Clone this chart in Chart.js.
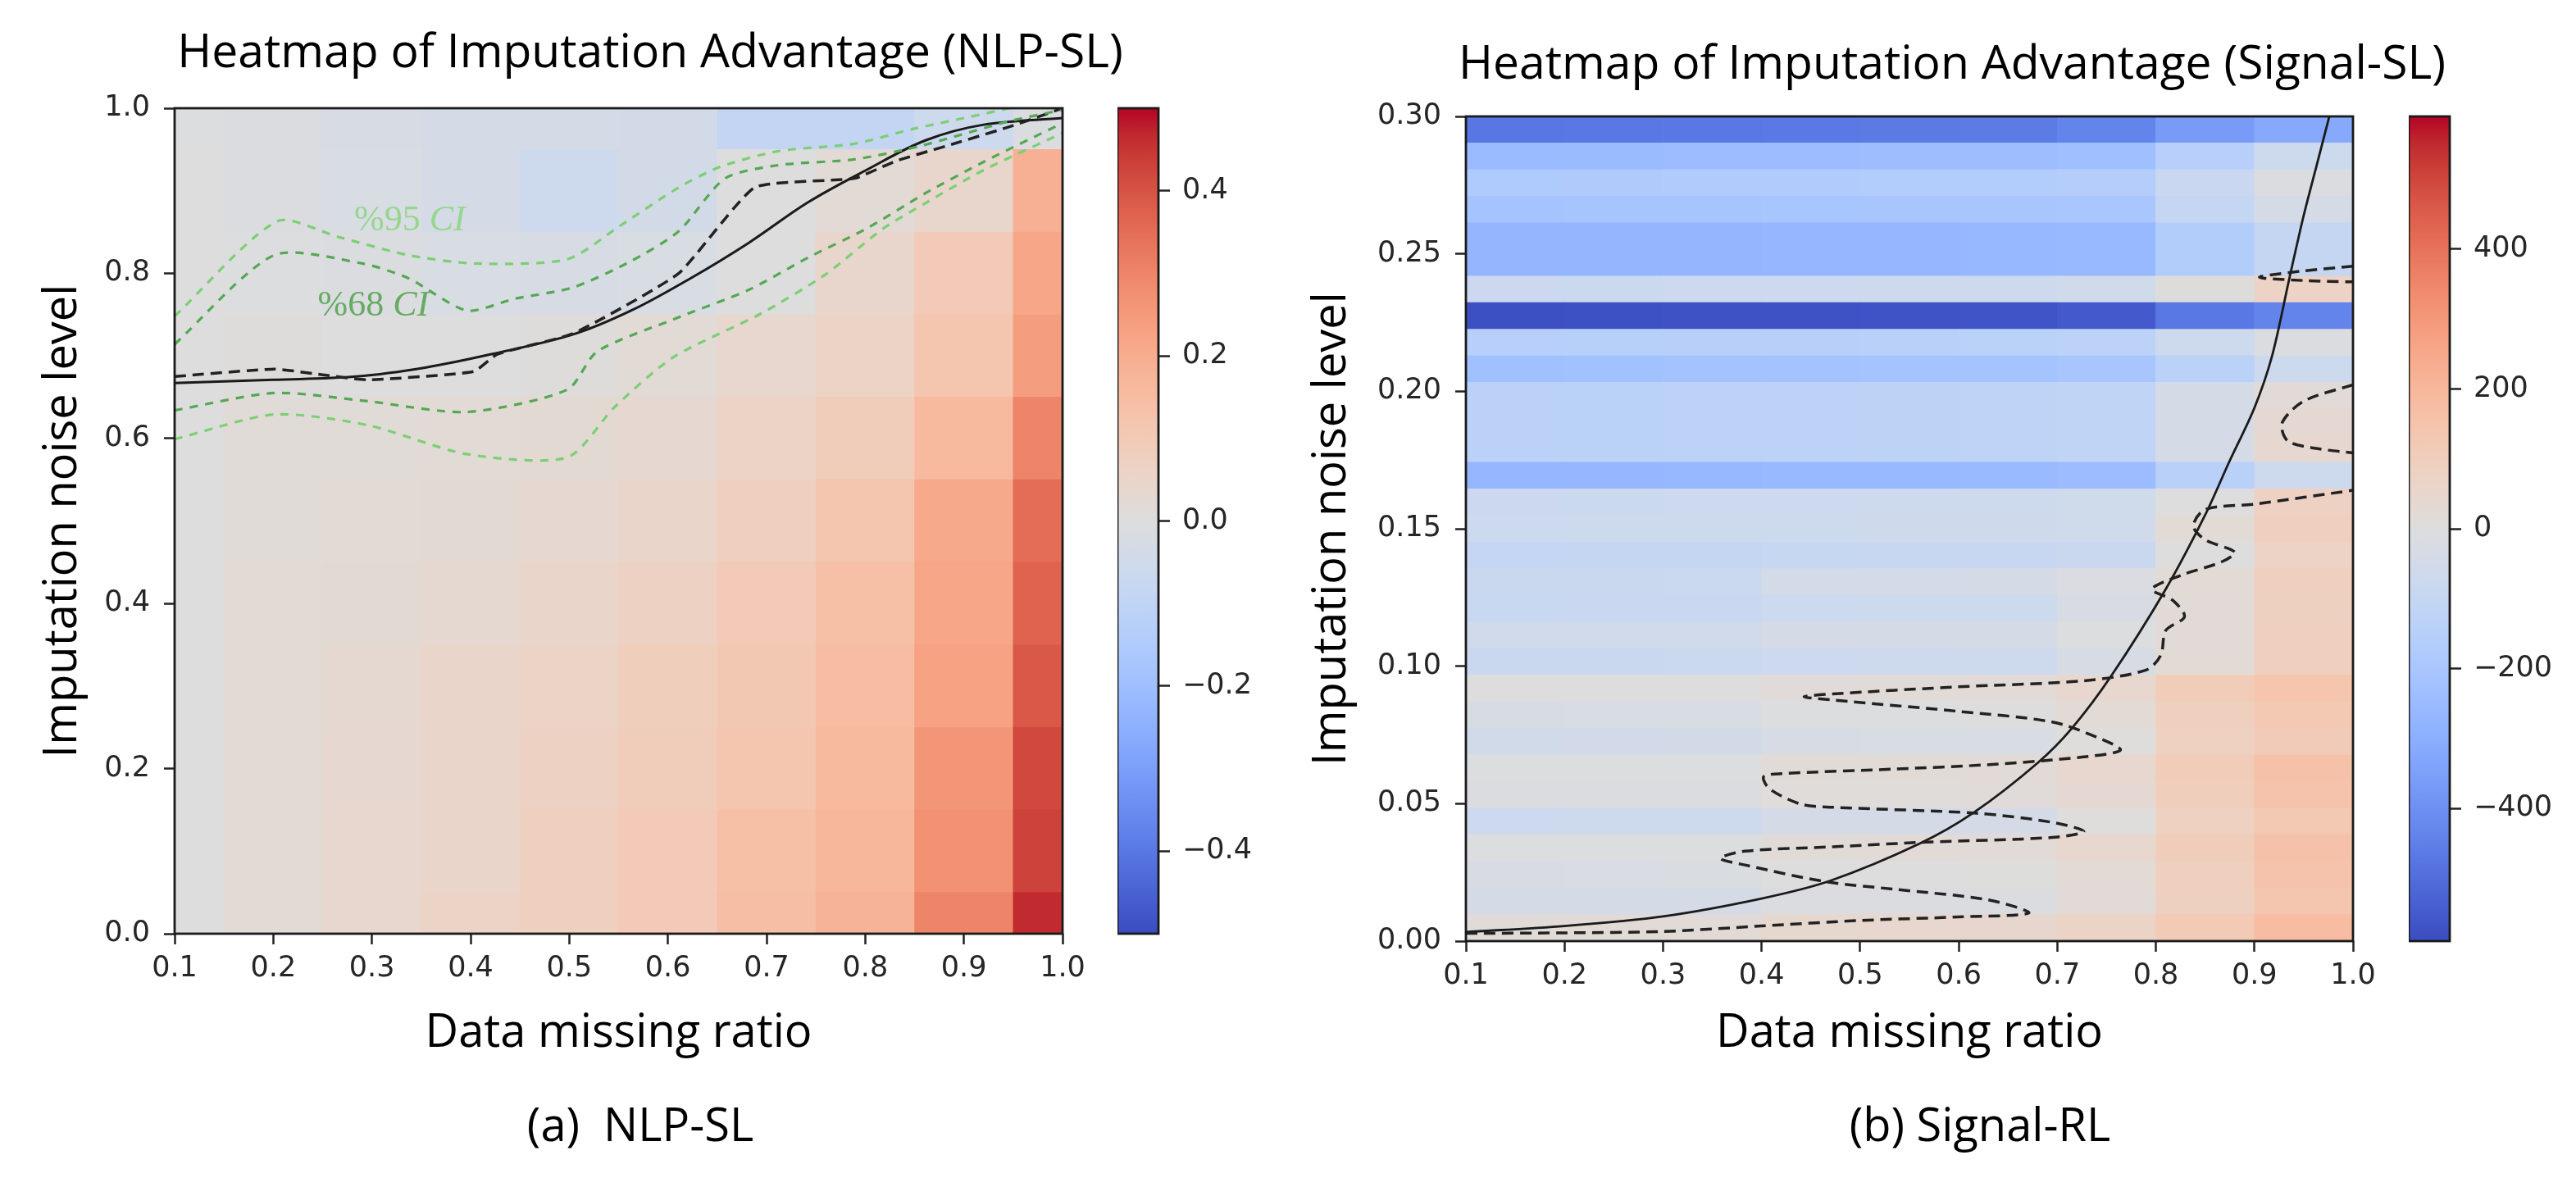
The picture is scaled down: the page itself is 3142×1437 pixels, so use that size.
<!DOCTYPE html>
<html>
<head>
<meta charset="utf-8">
<title>Heatmaps of Imputation Advantage</title>
<script src="https://cdn.jsdelivr.net/npm/chart.js@4.4.1/dist/chart.umd.min.js"></script>
<style>
  html, body { margin:0; padding:0; background:#ffffff; }
  body { width:3142px; height:1437px; overflow:hidden; position:relative; }
  canvas { position:absolute; }
  .caption { position:absolute; top:1342px; width:500px; text-align:center; font-family:'Open Sans', sans-serif; font-size:56px; line-height:1; color:#000; white-space:pre; }
</style>
</head>
<body>
<canvas id="nlpHeat"></canvas>
<canvas id="sigHeat"></canvas>
<canvas id="nlpBar"></canvas>
<canvas id="sigBar"></canvas>
<div class="caption" style="left:531px">(a)  NLP-SL</div>
<div class="caption" style="left:2165px">(b) Signal-RL</div>
<script>
// ======================= Panel (a): NLP-SL =======================
const nlpMissingRatio = [0.1, 0.2, 0.3, 0.4, 0.5, 0.6, 0.7, 0.8, 0.9, 1.0];          // column centres
const nlpNoiseLevel   = [0.0, 0.1, 0.2, 0.3, 0.4, 0.5, 0.6, 0.7, 0.8, 0.9, 1.0];     // row centres
// imputation advantage, one row per noise level (bottom -> top), one value per missing ratio
const nlpAdvantage = [
  [ 0.000,  0.020,  0.040,  0.060,  0.080,  0.100,  0.145,  0.180,  0.300,  0.465],
  [ 0.000,  0.020,  0.040,  0.050,  0.080,  0.100,  0.140,  0.170,  0.270,  0.430],
  [ 0.000,  0.020,  0.035,  0.050,  0.070,  0.090,  0.120,  0.160,  0.260,  0.420],
  [ 0.000,  0.020,  0.030,  0.050,  0.060,  0.085,  0.110,  0.150,  0.230,  0.390],
  [ 0.000,  0.020,  0.025,  0.030,  0.050,  0.070,  0.100,  0.140,  0.220,  0.370],
  [ 0.000,  0.015,  0.020,  0.025,  0.035,  0.050,  0.080,  0.120,  0.210,  0.350],
  [ 0.000,  0.015,  0.015,  0.020,  0.025,  0.035,  0.060,  0.090,  0.160,  0.300],
  [ 0.000,  0.005,  0.000,  0.000,  0.005,  0.020,  0.040,  0.060,  0.120,  0.240],
  [ 0.000, -0.005, -0.010, -0.020, -0.025, -0.020,  0.000,  0.045,  0.100,  0.220],
  [ 0.000, -0.010, -0.020, -0.030, -0.060, -0.040,  0.000,  0.020,  0.045,  0.190],
  [-0.005, -0.010, -0.025, -0.030, -0.035, -0.040, -0.090, -0.090, -0.060, -0.010]
];
const nlpXTicks = [0.1, 0.2, 0.3, 0.4, 0.5, 0.6, 0.7, 0.8, 0.9, 1.0];
const nlpYTicks = [0.0, 0.2, 0.4, 0.6, 0.8, 1.0];
const nlpColorRange = [-0.5, 0.5];
const nlpColorTicks = [-0.4, -0.2, 0.0, 0.2, 0.4];
// fitted boundary (solid)
const nlpFitX = [0.100, 0.200, 0.284, 0.355, 0.421, 0.504, 0.563, 0.623, 0.682, 0.742, 0.801, 0.861, 0.920, 1.000];
const nlpFitY = [0.667, 0.671, 0.675, 0.686, 0.702, 0.726, 0.755, 0.794, 0.837, 0.886, 0.925, 0.961, 0.980, 0.988];
// zero-advantage contour (black dashed)
const nlpZeroX = [0.100, 0.201, 0.250, 0.296, 0.403, 0.427, 0.504, 0.611, 0.688, 0.789, 0.831, 0.890, 0.950, 1.000];
const nlpZeroY = [0.675, 0.684, 0.677, 0.671, 0.681, 0.702, 0.727, 0.800, 0.904, 0.915, 0.936, 0.957, 0.979, 1.000];
// confidence bands (green dashed)
const nlpCi95UpperX = [0.100, 0.204, 0.266, 0.337, 0.403, 0.498, 0.552, 0.611, 0.653, 0.712, 0.789, 0.849, 0.945, 1.000];
const nlpCi95UpperY = [0.748, 0.863, 0.844, 0.822, 0.812, 0.817, 0.858, 0.904, 0.929, 0.948, 0.957, 0.975, 1.000, 1.020];
const nlpCi68UpperX = [0.100, 0.201, 0.290, 0.337, 0.396, 0.444, 0.504, 0.563, 0.611, 0.658, 0.712, 0.789, 0.855, 0.945, 1.000];
const nlpCi68UpperY = [0.714, 0.822, 0.812, 0.794, 0.755, 0.769, 0.783, 0.815, 0.851, 0.915, 0.931, 0.938, 0.954, 0.984, 0.998];
const nlpCi68LowerX = [0.100, 0.201, 0.296, 0.396, 0.498, 0.528, 0.605, 0.682, 0.742, 0.801, 0.861, 0.920, 1.000];
const nlpCi68LowerY = [0.634, 0.655, 0.645, 0.632, 0.659, 0.705, 0.744, 0.780, 0.819, 0.854, 0.897, 0.935, 0.982];
const nlpCi95LowerX = [0.100, 0.201, 0.296, 0.396, 0.498, 0.546, 0.605, 0.694, 0.759, 0.818, 0.861, 0.920, 1.000];
const nlpCi95LowerY = [0.599, 0.629, 0.616, 0.581, 0.577, 0.638, 0.698, 0.751, 0.798, 0.854, 0.885, 0.925, 0.970];
const nlpCiLabels = ['%95', '%68'];
const nlpCiLabelX = [0.282, 0.245];
const nlpCiLabelY = [0.852, 0.749];

// ======================= Panel (b): Signal =======================
const sigMissingRatio = [0.15, 0.25, 0.35, 0.45, 0.55, 0.65, 0.75, 0.85, 0.95];     // column centres
const sigNoiseLevel = [0.00, 0.01, 0.02, 0.03, 0.04, 0.05, 0.06, 0.07, 0.08, 0.09, 0.10,
                       0.11, 0.12, 0.13, 0.14, 0.15, 0.16, 0.17, 0.18, 0.19, 0.20,
                       0.21, 0.22, 0.23, 0.24, 0.25, 0.26, 0.27, 0.28, 0.29, 0.30];
const sigAdvantage = [
  [  18,   20,   22,   42,   45,   48,   70,  120,  180],
  [ -42,  -40,  -38,  -14,  -12,  -10,   20,   90,  140],
  [ -22,  -20,  -18,   -2,    0,    2,   25,   95,  150],
  [  -6,   -5,   -4,   18,   20,   22,   45,  105,  160],
  [ -72,  -70,  -68,  -42,  -40,  -38,    3,   85,  125],
  [ -13,  -12,  -11,    8,   10,   12,   35,  100,  150],
  [  -6,   -5,   -4,   18,   20,   22,   45,  110,  160],
  [ -52,  -50,  -48,  -27,  -25,  -23,    3,   85,  115],
  [ -26,  -25,  -24,   -5,   -3,   -1,   25,   95,  125],
  [  -1,    0,    1,   16,   18,   20,   45,  110,  145],
  [ -82,  -80,  -78,  -72,  -70,  -68,  -30,   25,   95],
  [ -56,  -55,  -54,  -42,  -40,  -38,   -5,   22,   95],
  [ -87,  -85,  -83,  -72,  -70,  -68,  -30,   20,   90],
  [ -82,  -80,  -78,  -47,  -45,  -43,  -15,   25,   95],
  [-102, -100,  -98,  -95,  -93,  -90,  -80,    0,   75],
  [ -72,  -70,  -68,  -68,  -66,  -64,  -55,   25,   95],
  [ -79,  -77,  -75,  -72,  -70,  -68,  -62,    0,   78],
  [-268, -265, -262, -260, -258, -255, -245, -145,  -70],
  [-137, -135, -133, -131, -129, -127, -118,  -35,   40],
  [-137, -135, -133, -131, -129, -127, -118,  -35,   35],
  [-137, -135, -133, -131, -129, -127, -118,  -35,   20],
  [-228, -225, -222, -220, -217, -214, -205, -140,  -70],
  [-153, -150, -148, -146, -144, -141, -132,  -70,  -12],
  [-580, -578, -576, -574, -572, -568, -555, -472, -437],
  [ -79,  -77,  -75,  -73,  -71,  -69,  -62,    5,   74],
  [-273, -271, -269, -267, -265, -263, -258, -165, -100],
  [-273, -271, -269, -267, -265, -263, -258, -165, -100],
  [-214, -212, -210, -208, -206, -204, -198, -100,  -35],
  [-179, -177, -175, -173, -171, -169, -163,  -83,  -12],
  [-250, -248, -246, -244, -242, -240, -232, -153,  -71],
  [-474, -472, -470, -468, -466, -462, -437, -366, -319]
];
const sigXTicks = [0.1, 0.2, 0.3, 0.4, 0.5, 0.6, 0.7, 0.8, 0.9, 1.0];
const sigYTicks = [0.00, 0.05, 0.10, 0.15, 0.20, 0.25, 0.30];
const sigColorRange = [-590, 590];
const sigColorTicks = [-400, -200, 0, 200, 400];
// fitted boundary (solid)
const sigFitX = [0.100, 0.200, 0.300, 0.400, 0.470, 0.560, 0.615, 0.680, 0.715, 0.755, 0.810, 0.850, 0.874, 0.900, 0.918, 0.936, 0.950, 0.963, 0.976];
const sigFitY = [0.0033, 0.0055, 0.0090, 0.0155, 0.0220, 0.0354, 0.0467, 0.0648, 0.0775, 0.0966, 0.1280, 0.1550, 0.1740, 0.1940, 0.2130, 0.2420, 0.2640, 0.2820, 0.3000];
// zero-advantage contour (black dashed), three pieces
const sigZeroX = [0.100, 0.200, 0.300, 0.400, 0.500, 0.600, 0.671, 0.630, 0.536, 0.465, 0.383, 0.358, 0.383, 0.472, 0.567, 0.695, 0.727,
                  0.695, 0.618, 0.472, 0.440, 0.408, 0.402, 0.420, 0.536, 0.631, 0.727, 0.764, 0.740, 0.695, 0.599, 0.472, 0.443,
                  0.472, 0.599, 0.727, 0.790, 0.805, 0.810, 0.829, 0.817, 0.796, 0.825, 0.867, 0.880, 0.850, 0.838, 0.850, 0.901, 1.000];
const sigZeroY = [0.0028, 0.0030, 0.0035, 0.0055, 0.0075, 0.0088, 0.0102, 0.0150, 0.0188, 0.0216, 0.0277, 0.0301, 0.0327, 0.0343, 0.0360, 0.0377, 0.0399,
                  0.0432, 0.0465, 0.0487, 0.0498, 0.0554, 0.0598, 0.0609, 0.0626, 0.0642, 0.0670, 0.0695, 0.0742, 0.0797, 0.0836, 0.0877, 0.0889,
                  0.0899, 0.0925, 0.0947, 0.0986, 0.1040, 0.1130, 0.1180, 0.1240, 0.1280, 0.1330, 0.1380, 0.1415, 0.1460, 0.1510, 0.1570, 0.1590, 0.1640];
const sigZeroMidX = [1.000, 0.950, 0.928, 0.934, 0.963, 1.000];
const sigZeroMidY = [0.2024, 0.1964, 0.1884, 0.1819, 0.1792, 0.1776];
const sigZeroTopX = [1.000, 0.950, 0.905, 0.950, 1.000];
const sigZeroTopY = [0.2455, 0.2438, 0.2415, 0.2403, 0.2398];

// ======================= helpers =======================
const COOLWARM = [[59,76,192],[68,90,204],[77,104,215],[87,117,225],[98,130,234],[108,142,241],[119,154,247],[130,165,251],
  [141,176,254],[152,185,255],[163,194,255],[174,201,253],[184,208,249],[194,213,244],[204,217,238],[213,219,230],
  [221,221,221],[229,216,209],[236,211,197],[241,204,185],[245,196,173],[247,187,160],[247,177,148],[247,166,135],
  [244,154,123],[241,141,111],[236,127,99],[229,112,88],[222,96,77],[213,80,66],[203,62,56],[192,40,47],[180,4,38]];

function coolwarm(v, range) {
  let t = (v - range[0]) / (range[1] - range[0]);
  t = Math.max(0, Math.min(1, t));
  const n = COOLWARM.length - 1;
  const f = t * n;
  const k = Math.min(n - 1, Math.floor(f));
  const u = f - k;
  const a = COOLWARM[k], b = COOLWARM[k + 1];
  return 'rgb(' + [0, 1, 2].map(i => Math.round(a[i] + (b[i] - a[i]) * u)).join(',') + ')';
}

function placeCanvas(id, left, top, w, h) {
  const c = document.getElementById(id);
  c.width = w; c.height = h;
  c.style.left = left + 'px'; c.style.top = top + 'px';
  c.style.width = w + 'px'; c.style.height = h + 'px';
  return c;
}

const TICK_FONT = { family: "'DejaVu Sans', sans-serif", size: 35 };
const TITLE_FONT = { family: "'Open Sans', sans-serif", size: 57, weight: 'normal' };
const AXIS_TITLE_FONT = { family: "'Open Sans', sans-serif", size: 56, weight: 'normal' };
const minusFmt = (s) => s.replace('-', '\u2212');

const framePlugin = {
  id: 'frame',
  afterDatasetsDraw(chart) {
    const { ctx, chartArea: a } = chart;
    ctx.save();
    ctx.strokeStyle = '#1a1a1a';
    ctx.lineWidth = 2.8;
    ctx.strokeRect(a.left, a.top, a.right - a.left, a.bottom - a.top);
    ctx.restore();
  }
};

const ciLabelPlugin = {
  id: 'ciLabels',
  afterDatasetsDraw(chart) {
    const { ctx, scales } = chart;
    const colors = ['#97d68d', '#66ab61'];
    nlpCiLabels.forEach((txt, i) => {
      const px = scales.x.getPixelForValue(nlpCiLabelX[i]);
      const py = scales.y.getPixelForValue(nlpCiLabelY[i]);
      ctx.save();
      ctx.fillStyle = colors[i];
      ctx.textBaseline = 'alphabetic';
      ctx.textAlign = 'left';
      ctx.font = "44px 'Liberation Serif', serif";
      const first = txt + ' ';
      ctx.fillText(first, px, py);
      const w = ctx.measureText(first).width;
      ctx.font = "italic 44px 'Liberation Serif', serif";
      ctx.fillText('CI', px + w, py);
      ctx.restore();
    });
  }
};

function buildHeatChart(canvas, p) {
  const datasets = [];
  p.lines.forEach(l => datasets.push({
    type: 'line', xAxisID: 'x', yAxisID: 'y',
    data: l.x.map((x, i) => ({ x: x, y: l.y[i] })),
    borderColor: l.color, borderWidth: l.width, borderDash: l.dash || [],
    pointRadius: 0, pointHoverRadius: 0, fill: false, tension: l.tension,
    clip: 0, order: 0
  }));
  p.grid.forEach((row, r) => datasets.push({
    type: 'bar', xAxisID: 'x', yAxisID: 'y',
    data: p.cols.map(x => ({ x: x, y: p.rowEdges[r] })),
    backgroundColor: row.map(v => coolwarm(v, p.colorRange)),
    borderWidth: 0, grouped: false, barPercentage: 1, categoryPercentage: 1,
    clip: 0, order: 1
  }));
  return new Chart(canvas, {
    type: 'bar',
    data: { datasets: datasets },
    options: {
      responsive: false, animation: false, events: [],
      layout: { padding: p.padding },
      plugins: {
        legend: { display: false },
        tooltip: { enabled: false },
        title: { display: true, text: p.title, color: '#000', font: TITLE_FONT, padding: p.titlePad }
      },
      scales: {
        x: {
          type: 'linear', min: p.xRange[0], max: p.xRange[1], offset: false,
          afterBuildTicks: s => { s.ticks = p.xTicks.map(v => ({ value: v })); },
          afterFit: s => { s.height = p.xHeight; },
          ticks: { autoSkip: false, maxRotation: 0, minRotation: 0, padding: 9, color: '#262626', font: TICK_FONT,
                   callback: v => v.toFixed(1) },
          grid: { display: true, drawOnChartArea: false, drawTicks: true, tickLength: 13, tickWidth: 2.5, tickColor: '#222', offset: false },
          border: { display: false },
          title: { display: true, text: 'Data missing ratio', color: '#000', font: AXIS_TITLE_FONT, padding: { top: 0, bottom: 0 } }
        },
        y: {
          type: 'linear', position: 'left', min: p.yRange[0], max: p.yRange[1],
          afterBuildTicks: s => { s.ticks = p.yTicks.map(v => ({ value: v })); },
          afterFit: s => { s.width = p.yWidth; },
          ticks: { autoSkip: false, padding: 17, color: '#262626', font: TICK_FONT,
                   callback: v => v.toFixed(p.yDecimals) },
          grid: { display: true, drawOnChartArea: false, drawTicks: true, tickLength: 13, tickWidth: 2.5, tickColor: '#222' },
          border: { display: false },
          title: { display: true, text: 'Imputation noise level', color: '#000', font: AXIS_TITLE_FONT, padding: { top: p.yTitlePad, bottom: 0 } }
        },
        // empty right-hand gutter that leaves room for the colour bar
        gutter: {
          type: 'linear', axis: 'y', position: 'right', display: true, min: 0, max: 1,
          afterFit: s => { s.width = p.rightGap; },
          ticks: { display: false },
          grid: { display: false, drawTicks: false },
          border: { display: false },
          title: { display: false }
        }
      }
    },
    plugins: [framePlugin].concat(p.extraPlugins || [])
  });
}

function buildColorbar(canvas, p) {
  return new Chart(canvas, {
    type: 'bar',
    data: {
      labels: [''],
      datasets: [{
        data: [p.range],
        backgroundColor: (c) => {
          const a = c.chart.chartArea;
          if (!a) return 'rgba(0,0,0,0)';
          const g = c.chart.ctx.createLinearGradient(0, a.bottom, 0, a.top);
          COOLWARM.forEach((rgb, k) => g.addColorStop(k / (COOLWARM.length - 1), 'rgb(' + rgb.join(',') + ')'));
          return g;
        },
        borderWidth: 0, barPercentage: 1, categoryPercentage: 1
      }]
    },
    options: {
      responsive: false, animation: false, events: [],
      layout: { padding: p.padding },
      plugins: { legend: { display: false }, tooltip: { enabled: false } },
      scales: {
        x: { display: false },
        y: {
          position: 'right', min: p.range[0], max: p.range[1],
          afterBuildTicks: s => { s.ticks = p.ticks.map(v => ({ value: v })); },
          afterFit: s => { s.width = p.axisWidth; },
          ticks: { autoSkip: false, padding: 15, color: '#262626', font: TICK_FONT, callback: p.fmt },
          grid: { display: true, drawOnChartArea: false, drawTicks: true, tickLength: 14, tickWidth: 2.5, tickColor: '#222' },
          border: { display: false }
        }
      }
    },
    plugins: [framePlugin]
  });
}

// ======================= build panel (a) =======================
const nlpStep = nlpNoiseLevel[1] - nlpNoiseLevel[0];
buildHeatChart(placeCanvas('nlpHeat', 0, 0, 1586, 1437), {
  title: 'Heatmap of Imputation Advantage (NLP-SL)',
  titlePad: { top: 31.8, bottom: 31.8 },
  padding: { left: 0, right: 0, top: 0, bottom: 142.4 },
  rightGap: 290,
  xHeight: 155.6, yWidth: 213, yTitlePad: 43,
  xRange: [0.1, 1.0], yRange: [0.0, 1.0],
  xTicks: nlpXTicks, yTicks: nlpYTicks, yDecimals: 1,
  cols: nlpMissingRatio,
  rowEdges: nlpNoiseLevel.map(y => [y - nlpStep / 2, y + nlpStep / 2]),
  grid: nlpAdvantage, colorRange: nlpColorRange,
  lines: [
    { x: nlpCi95UpperX, y: nlpCi95UpperY, color: '#7ccf74', width: 3.2, dash: [10, 9], tension: 0.25 },
    { x: nlpCi68UpperX, y: nlpCi68UpperY, color: '#55a853', width: 3.2, dash: [10, 9], tension: 0.25 },
    { x: nlpCi68LowerX, y: nlpCi68LowerY, color: '#55a853', width: 3.2, dash: [10, 9], tension: 0.25 },
    { x: nlpCi95LowerX, y: nlpCi95LowerY, color: '#7ccf74', width: 3.2, dash: [10, 9], tension: 0.25 },
    { x: nlpZeroX, y: nlpZeroY, color: '#222222', width: 3.5, dash: [14, 8], tension: 0.15 },
    { x: nlpFitX, y: nlpFitY, color: '#1a1a1a', width: 3, tension: 0.35 }
  ],
  extraPlugins: [ciLabelPlugin]
});
buildColorbar(placeCanvas('nlpBar', 1363, 0, 200, 1437), {
  range: nlpColorRange, ticks: nlpColorTicks, axisWidth: 150,
  padding: { left: 0, right: 0, top: 132, bottom: 298 },
  fmt: v => minusFmt(v.toFixed(1))
});

// ======================= build panel (b) =======================
const sigRowHeight = (sigYTicks[sigYTicks.length - 1] - sigYTicks[0]) / sigNoiseLevel.length;
buildHeatChart(placeCanvas('sigHeat', 1590, 0, 1582, 1437), {
  title: 'Heatmap of Imputation Advantage (Signal-SL)',
  titlePad: { top: 45.8, bottom: 27.8 },
  padding: { left: 0, right: 0, top: 0, bottom: 142.4 },
  rightGap: 302,
  xHeight: 146.6, yWidth: 198, yTitlePad: 1.4,
  xRange: [0.1, 1.0], yRange: [0.0, 0.3],
  xTicks: sigXTicks, yTicks: sigYTicks, yDecimals: 2,
  cols: sigMissingRatio,
  rowEdges: sigNoiseLevel.map((y, i) => [i * sigRowHeight, (i + 1) * sigRowHeight]),
  grid: sigAdvantage, colorRange: sigColorRange,
  lines: [
    { x: sigZeroX, y: sigZeroY, color: '#222222', width: 3.5, dash: [14, 8], tension: 0.3 },
    { x: sigZeroMidX, y: sigZeroMidY, color: '#222222', width: 3.5, dash: [14, 8], tension: 0.3 },
    { x: sigZeroTopX, y: sigZeroTopY, color: '#222222', width: 3.5, dash: [14, 8], tension: 0.3 },
    { x: sigFitX, y: sigFitY, color: '#1a1a1a', width: 2.8, tension: 0.3 }
  ]
});
buildColorbar(placeCanvas('sigBar', 2938, 0, 204, 1437), {
  range: sigColorRange, ticks: sigColorTicks, axisWidth: 154,
  padding: { left: 0, right: 0, top: 142, bottom: 289 },
  fmt: v => minusFmt(String(v))
});
</script>
</body>
</html>
